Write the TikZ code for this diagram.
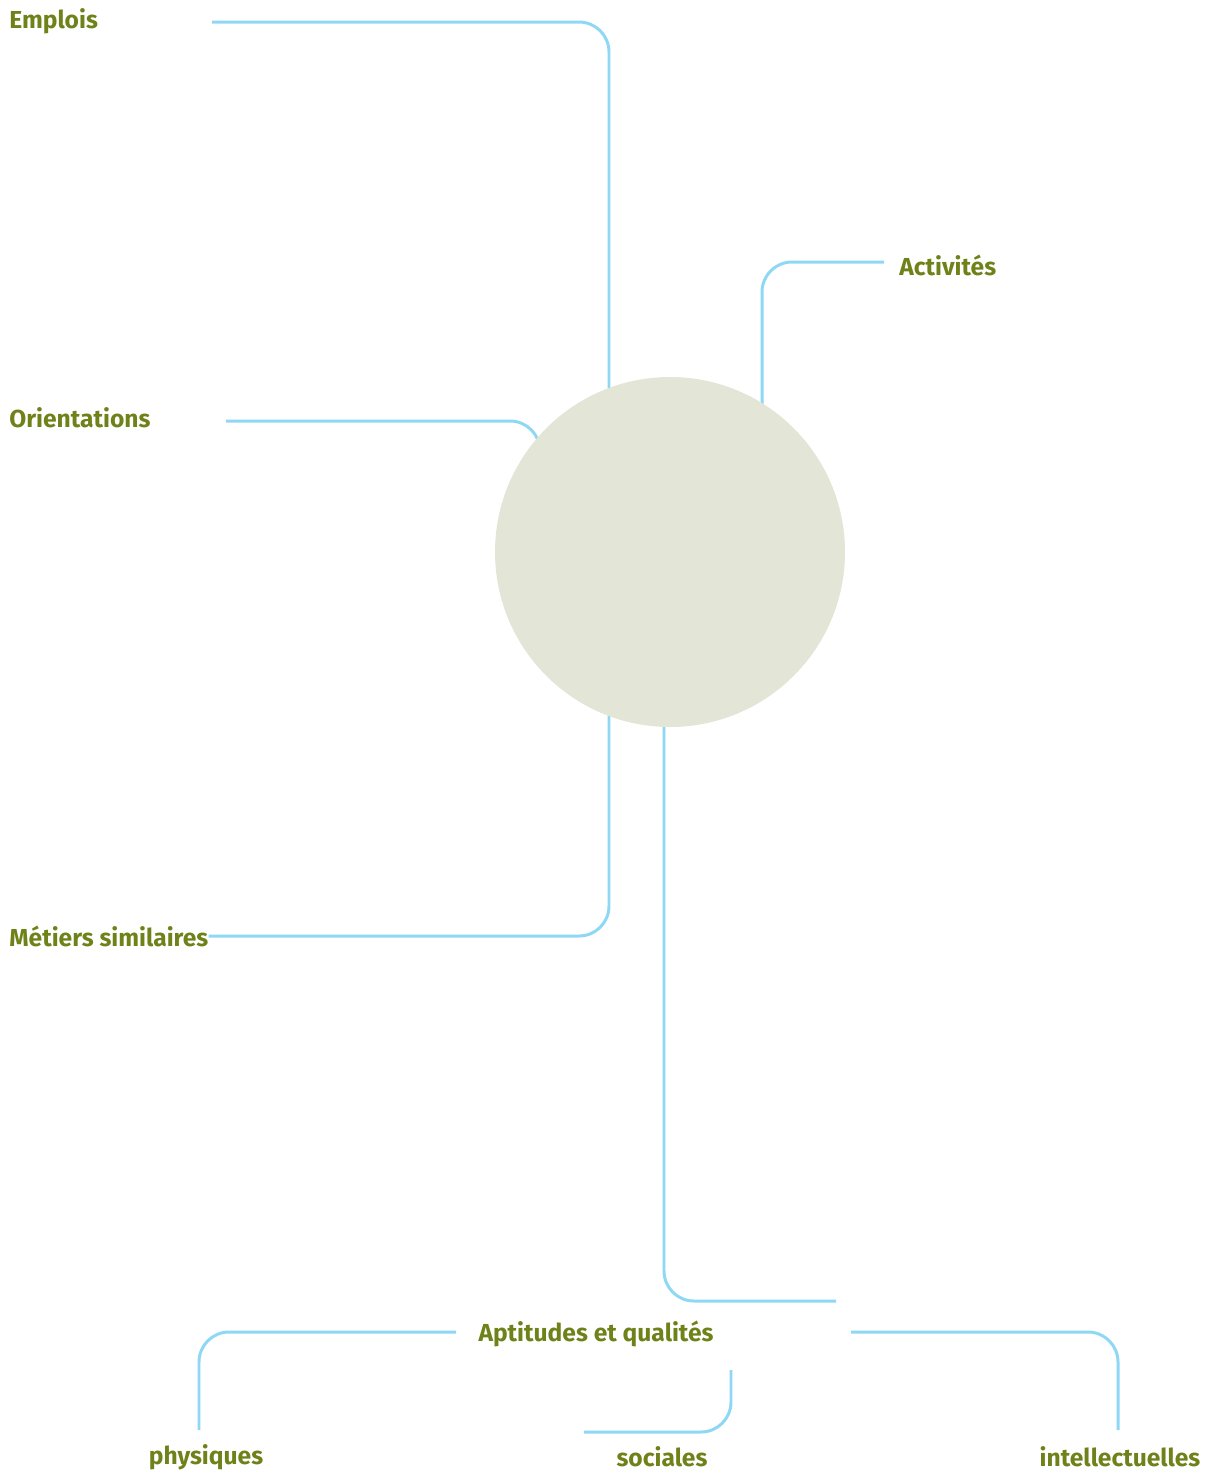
\documentclass[tikz,border=0pt]{standalone}
\usepackage{fontspec}
\setmainfont{Fira Sans}
\definecolor{olivetext}{HTML}{6E8219}
\definecolor{skyline}{HTML}{8ED8F6}
\definecolor{discfill}{HTML}{E3E5D7}
\tikzset{
  label/.style={font=\fontsize{14}{16}\selectfont\bfseries, text=olivetext, inner sep=0pt},
  link/.style={draw=skyline, line width=1.7pt, rounded corners=0.6cm}
}
\begin{document}
\begin{tikzpicture}[x=0.02cm, y=-0.02cm]
  \useasboundingbox (0,0) rectangle (1208,1475);
  % labels
  \node[label, anchor=west] (emplois) at (9, 21){Emplois};
  \node[label, anchor=west] (activites) at (899, 265){Activités};
  \node[label, anchor=west] (orientations) at (9, 418){Orientations};
  \node[label, anchor=west] (metiers) at (9, 936){Métiers similaires};
  \node[label] (aptitudes) at (596, 1334){Aptitudes et qualités};
  \node[label] (physiques) at (206, 1457){physiques};
  \node[label] (sociales) at (662, 1457){sociales};
  \node[label] (intellect) at (1120, 1457){intellectuelles};
  % free ends of the links
  \coordinate (emplois end) at (212, 22);
  \coordinate (activites end) at (884, 262);
  \coordinate (orientations end) at (226, 421);
  \coordinate (aptitudes end) at (836, 1301);
  \coordinate (physiques top) at (199, 1430);
  \coordinate (physiques start) at (456, 1332);
  \coordinate (sociales top) at (731, 1370);
  \coordinate (sociales end) at (584, 1432);
  \coordinate (intellect top) at (1118, 1430);
  \coordinate (intellect start) at (851, 1332);
  \coordinate (hub) at (670, 552);
  % links to the centre
  \draw[link] (emplois end) -| (609, 552);
  \draw[link] (activites end) -| (762, 552);
  \draw[link] (orientations end) -| (540, 552);
  \draw[link] (metiers.east) -| (609, 552);
  \draw[link] (664, 552) |- (aptitudes end);
  % links below the aptitudes
  \draw[link] (physiques start) -| (physiques top);
  \draw[link] (sociales top) |- (sociales end);
  \draw[link] (intellect start) -| (intellect top);
  % centre disc
  \node[circle, fill=discfill, minimum size=350*0.02cm, inner sep=0pt] (centre) at (hub){};
\end{tikzpicture}
\end{document}
